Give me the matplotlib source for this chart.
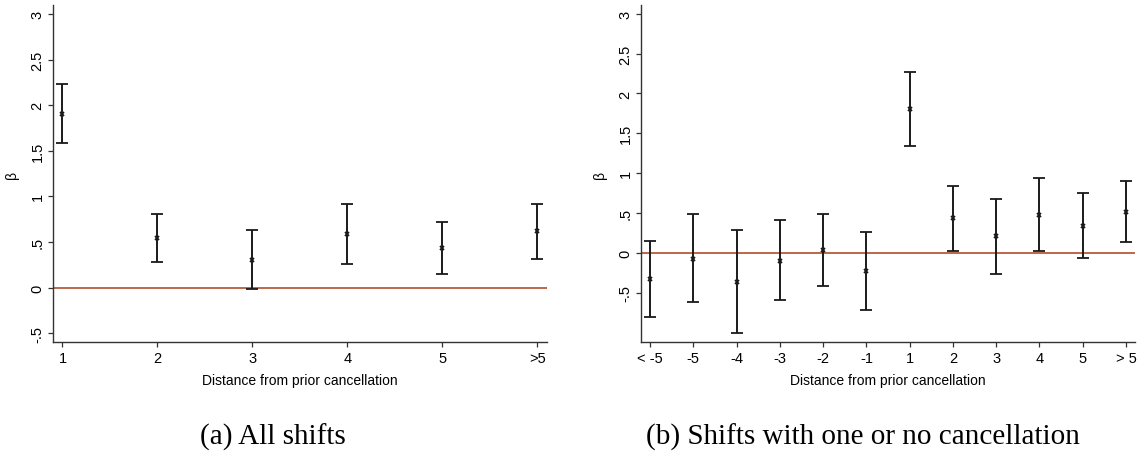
import matplotlib.pyplot as plt
import numpy as np

# ----- Données -----
labels_a = ["1", "2", "3", "4", "5", ">5"]
beta_a = [1.907, 0.544, 0.306, 0.588, 0.438, 0.617]
haut_a = [2.232, 0.807, 0.632, 0.913, 0.723, 0.913]
bas_a = [1.586, 0.284, -0.012, 0.255, 0.152, 0.317]

labels_b = ["< -5", "-5", "-4", "-3", "-2", "-1", "1", "2", "3", "4", "5", "> 5"]
beta_b = [-0.327, -0.071, -0.360, -0.096, 0.038, -0.226,
          1.800, 0.436, 0.210, 0.481, 0.343, 0.519]
haut_b = [0.155, 0.486, 0.293, 0.410, 0.490, 0.264,
          2.270, 0.846, 0.678, 0.946, 0.754, 0.908]
bas_b = [-0.808, -0.620, -1.009, -0.595, -0.419, -0.712,
         1.336, 0.025, -0.260, 0.021, -0.067, 0.138]

yticks = [-0.5, 0, 0.5, 1, 1.5, 2, 2.5, 3]
ytick_labels = ["-.5", "0", ".5", "1", "1.5", "2", "2.5", "3"]

COULEUR_ZERO = "#b85a3c"
COULEUR_AXE = "#333333"
POLICE = ["Liberation Sans", "DejaVu Sans"]

plt.rcParams["font.family"] = POLICE


def panneau(ax, labels, beta, haut, bas, xlim, ylim):
    x = np.arange(len(labels))
    beta = np.array(beta)
    err = [beta - np.array(bas), np.array(haut) - beta]
    ax.axhline(0, color=COULEUR_ZERO, linewidth=1.3, zorder=1)
    ax.errorbar(x, beta, yerr=err, fmt="x", color="#1a1a1a", ecolor="#1a1a1a",
                markersize=3, markeredgewidth=1.3, elinewidth=1.4,
                capsize=4, capthick=1.3, zorder=3)
    ax.set_xlim(*xlim)
    ax.set_ylim(*ylim)
    ax.set_xticks(x)
    ax.set_xticklabels(labels)
    ax.set_yticks(yticks)
    ax.set_yticklabels(ytick_labels, rotation=90, va="center")
    for s in ("top", "right"):
        ax.spines[s].set_visible(False)
    for s in ("left", "bottom"):
        ax.spines[s].set_color(COULEUR_AXE)
        ax.spines[s].set_linewidth(1.0)
    ax.tick_params(axis="both", colors=COULEUR_AXE, labelcolor="black",
                   labelsize=10.5, length=3.6, width=0.9, pad=2.5)
    ax.set_xlabel("Distance from prior cancellation", fontsize=10, labelpad=6)
    ax.set_ylabel("β", fontsize=10, labelpad=8)


fig = plt.figure(figsize=(11.42, 4.6), dpi=100)
ax_a = fig.add_axes([0.0464, 0.2537, 0.4323, 0.7333])
ax_b = fig.add_axes([0.5613, 0.2537, 0.4326, 0.7333])

panneau(ax_a, labels_a, beta_a, haut_a, bas_a, (-0.1, 5.1), (-0.6, 3.1))
panneau(ax_b, labels_b, beta_b, haut_b, bas_b, (-0.21, 11.21), (-1.12, 3.11))

fig.text(273 / 1142, 1 - 437 / 460, "(a) All shifts", ha="center", va="center",
         family="Liberation Serif", fontsize=21)
fig.text(863 / 1142, 1 - 437 / 460, "(b) Shifts with one or no cancellation",
         ha="center", va="center", family="Liberation Serif", fontsize=21)

fig.savefig("out.png", dpi=100)
